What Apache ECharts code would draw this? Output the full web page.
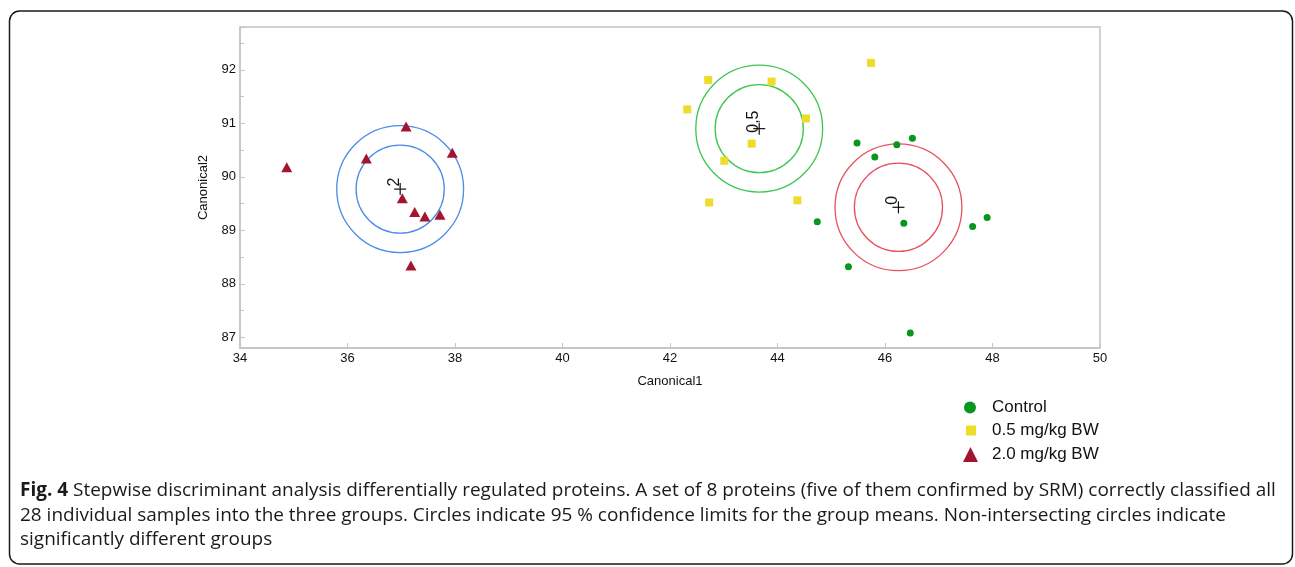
<!DOCTYPE html>
<html><head><meta charset="utf-8">
<script src="https://cdn.jsdelivr.net/npm/echarts@6/dist/echarts.min.js"></script>
<style>html,body{margin:0;padding:0;background:#fff}#c{width:1295px;height:567px}</style>
</head><body><div id="c"></div>
<script>
// ---- data ----
const seriesNames = ['Control', '0.5 mg/kg BW', '2.0 mg/kg BW'];
const controlPoints = [[45.48,90.63],[46.22,90.60],[46.51,90.72],[45.81,90.37],[44.74,89.16],[46.35,89.13],[47.63,89.07],[47.90,89.24],[45.32,88.32],[46.47,87.08]];
const lowDosePoints = [[45.74,92.13],[42.71,91.81],[43.89,91.78],[42.32,91.26],[44.53,91.09],[43.52,90.62],[43.01,90.30],[42.73,89.52],[44.37,89.56]];
const highDosePoints = [[34.87,90.18],[37.09,90.94],[36.35,90.34],[37.95,90.45],[37.02,89.60],[37.25,89.34],[37.44,89.26],[37.72,89.29],[37.18,88.34]];
const groupLabels = ['0', '0,5', '2'];
const groupCenters = [[46.25,89.43],[43.66,90.90],[36.98,89.77]];
const innerRadius = 0.82;   // 95% confidence circle (canonical units)
const outerRadius = 1.18;
const xTicks = [34,36,38,40,42,44,46,48,50];
const yRange = [86.8, 92.8];
const captionBold = 'Fig. 4';
const captionLines = [
  ' Stepwise discriminant analysis differentially regulated proteins. A set of 8 proteins (five of them confirmed by SRM) correctly classified all',
  '28 individual samples into the three groups. Circles indicate 95 % confidence limits for the group means. Non-intersecting circles indicate',
  'significantly different groups'
];

// ---- styles ----
const pointColors = ['#08961e', '#eedc2a', '#a3142e'];
const ringColors = ['#e8505f', '#3ec54e', '#4a8ce6'];
const axisGray = '#c4c4c4';
const F = 'Liberation Sans, Arial, sans-serif';
const CF = 'Open Sans';

// fit caption font so that the first line spans the caption width
const ctx = document.createElement('canvas').getContext('2d');
ctx.font = 'bold 100px "' + CF + '"';
let w100 = ctx.measureText(captionBold).width;
ctx.font = '100px "' + CF + '"';
w100 += ctx.measureText(captionLines[0]).width;
const capSize = Math.max(14, Math.min(20, 100 * 1256 / w100));

const chart = echarts.init(document.getElementById('c'), null, {renderer: 'canvas'});

function legendFor(name, left, top, s, pad) {
  return {
    data: [name], left: left, top: top, orient: 'vertical', padding: 0,
    itemWidth: s, itemHeight: s, selectedMode: false,
    textStyle: {fontFamily: F, fontSize: 17, color: '#111', padding: [0,0,0,pad]}
  };
}

const option = {
  animation: false,
  backgroundColor: '#fff',
  grid: {left: 240, right: 195, top: 27, bottom: 219, show: true, borderColor: axisGray, borderWidth: 1.5},
  xAxis: {
    type: 'value', min: xTicks[0], max: xTicks[xTicks.length-1], interval: 2,
    name: 'Canonical1', nameLocation: 'middle', nameGap: 27,
    nameTextStyle: {fontFamily: F, fontSize: 13, color: '#111'},
    axisLine: {show: true, lineStyle: {color: axisGray, width: 1.5}},
    axisTick: {show: true, inside: true, length: 5, lineStyle: {color: axisGray}},
    axisLabel: {fontFamily: F, fontSize: 13, color: '#111', margin: 4},
    splitLine: {show: false}
  },
  yAxis: {
    type: 'value', min: yRange[0], max: yRange[1], splitNumber: 6,
    name: 'Canonical2', nameLocation: 'middle', nameGap: 30,
    nameTextStyle: {fontFamily: F, fontSize: 13, color: '#111'},
    axisLine: {show: true, lineStyle: {color: axisGray, width: 1.5}},
    axisTick: {show: true, inside: true, length: 5, lineStyle: {color: axisGray}},
    minorTick: {show: true, splitNumber: 2, length: 4, lineStyle: {color: axisGray}},
    axisLabel: {fontFamily: F, fontSize: 13, color: '#111', margin: 4, showMinLabel: false, showMaxLabel: false},
    splitLine: {show: false}
  },
  legend: [
    legendFor(seriesNames[0], 964, 399, 12, 11),
    legendFor(seriesNames[1], 966, 422, 10, 11),
    legendFor(seriesNames[2], 963, 446, 15, 9)
  ],
  series: [
    {
      type: 'custom', name: 'circles', silent: true, z: 1,
      data: groupCenters.map((c, i) => ({value: c, name: groupLabels[i]})),
      renderItem: function (params, api) {
        const c = api.coord([api.value(0), api.value(1)]);
        const ro = api.size([outerRadius, 0])[0];
        const ri = api.size([innerRadius, 0])[0];
        const col = ringColors[params.dataIndex];
        return {type: 'group', children: [
          {type: 'circle', shape: {cx: c[0], cy: c[1], r: ro}, style: {fill: 'none', stroke: col, lineWidth: 1.3}},
          {type: 'circle', shape: {cx: c[0], cy: c[1], r: ri}, style: {fill: 'none', stroke: col, lineWidth: 1.3}},
          {type: 'line', shape: {x1: c[0]-6, y1: c[1], x2: c[0]+6, y2: c[1]}, style: {stroke: '#111', lineWidth: 1.2}},
          {type: 'line', shape: {x1: c[0], y1: c[1]-6, x2: c[0], y2: c[1]+6}, style: {stroke: '#111', lineWidth: 1.2}},
          {type: 'text', x: c[0]-6, y: c[1]-7, rotation: Math.PI/2,
           style: {text: groupLabels[params.dataIndex], fontFamily: F, fontSize: 16, fill: '#111', align: 'center', verticalAlign: 'middle'}}
        ]};
      }
    },
    {type: 'scatter', name: seriesNames[0], data: controlPoints, symbol: 'circle', symbolSize: 7, z: 3,
     itemStyle: {color: pointColors[0], opacity: 1}},
    {type: 'scatter', name: seriesNames[1], data: lowDosePoints, symbol: 'rect', symbolSize: 8, z: 3,
     itemStyle: {color: pointColors[1], opacity: 1}},
    {type: 'scatter', name: seriesNames[2], data: highDosePoints, symbol: 'triangle', symbolSize: [11, 10], z: 3,
     itemStyle: {color: pointColors[2], opacity: 1}}
  ],
  graphic: [
    {type: 'rect', shape: {x: 9.5, y: 11, width: 1283, height: 553, r: 10}, style: {fill: 'none', stroke: '#1a1a1a', lineWidth: 1.5}, silent: true}
  ].concat(captionLines.map((t, i) => ({
    type: 'text', x: 20, y: 491 + i * 24.5, silent: true,
    style: {text: (i === 0 ? '{b|' + captionBold + '}' : '') + t, fontFamily: CF, fontSize: capSize, fill: '#1a1a1a', verticalAlign: 'middle',
      rich: {b: {fontFamily: CF, fontSize: capSize, fontWeight: 'bold', fill: '#1a1a1a'}}}
  })))
};
chart.setOption(option);
</script></body></html>
